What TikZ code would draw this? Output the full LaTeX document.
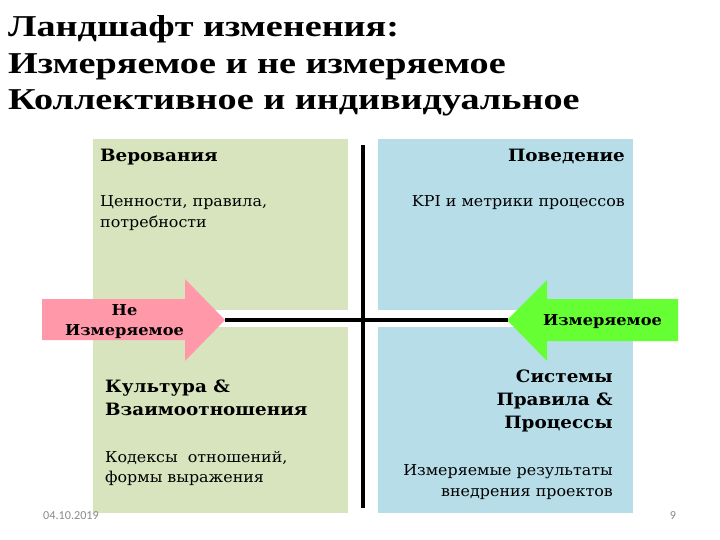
\documentclass[tikz,border=0pt]{standalone}
\usepackage{fontspec}
\setmainfont{DejaVu Serif}
\newfontfamily\titlefont[FakeStretch=1.26]{Liberation Serif}
\newfontfamily\headfont[FakeStretch=1.08]{DejaVu Serif}
\newfontfamily\bodyfont[FakeStretch=1.06]{DejaVu Serif}
\newfontfamily\footfont{Carlito}
\definecolor{boxgreen}{HTML}{D7E4BD}
\definecolor{boxblue}{HTML}{B7DEE8}
\definecolor{arrpink}{HTML}{FF99AA}
\definecolor{arrgreen}{HTML}{66FF33}
\definecolor{footgray}{HTML}{8B8B8B}
\tikzset{
  titletext/.style={anchor=base west, inner sep=0pt, font=\titlefont\bfseries\fontsize{30.3}{32}\selectfont},
  headL/.style={anchor=base west, inner sep=0pt, font=\headfont\bfseries\fontsize{17}{18}\selectfont},
  headR/.style={anchor=base east, inner sep=0pt, font=\headfont\bfseries\fontsize{17}{18}\selectfont},
  bodyL/.style={anchor=base west, inner sep=0pt, font=\bodyfont\fontsize{15}{18}\selectfont},
  bodyR/.style={anchor=base east, inner sep=0pt, font=\bodyfont\fontsize{15}{18}\selectfont},
  arrlabel/.style={anchor=base, inner sep=0pt, font=\headfont\bfseries\fontsize{15}{16}\selectfont},
  foottext/.style={inner sep=0pt, text=footgray, font=\footfont\fontsize{12.2}{14}\selectfont},
  axis/.style={line width=3.4pt, black},
}
\begin{document}
\begin{tikzpicture}[x=1pt,y=-1pt]
\useasboundingbox (0,0) rectangle (720,540);
\fill[white] (0,0) rectangle (720,540);

% title
\node[titletext] (t1) at (8,37) {Ландшафт изменения:};
\node[titletext] (t2) at (8,74) {Измеряемое и не измеряемое};
\node[titletext] (t3) at (8,110) {Коллективное и индивидуальное};

% quadrants
\fill[boxgreen] (93,139) rectangle (348,310);
\fill[boxgreen] (93,327) rectangle (348,513);
\fill[boxblue] (378,139) rectangle (633,310);
\fill[boxblue] (378,327) rectangle (633,513);

% arrows
\fill[arrpink] (42,299) -- (185,299) -- (185,279) -- (225,320) -- (185,361) -- (185,340) -- (42,340) -- cycle;
\fill[arrgreen] (678,299) -- (547,299) -- (547,280) -- (507,320) -- (547,361) -- (547,341) -- (678,341) -- cycle;

% axes
\coordinate (hl) at (225,320);
\coordinate (hr) at (508,320);
\coordinate (vt) at (363,145);
\coordinate (vb) at (363,508);
\draw[axis] (hl) -- (hr);
\draw[axis] (vt) -- (vb);

% top-left
\node[headL] (b1) at (100,162) {Верования};
\node[bodyL] (b1a) at (100,207) {Ценности, правила,};
\node[bodyL] (b1b) at (100,228) {потребности};

% top-right
\node[headR] (b2) at (625,162) {Поведение};
\node[bodyR] (b2a) at (625,207) {KPI и метрики процессов};

% bottom-left
\node[headL] (b3) at (105,392) {Культура \&};
\node[headL] (b3b) at (105,415) {Взаимоотношения};
\node[bodyL] (b3c) at (105,462) {Кодексы\ \ отношений,};
\node[bodyL] (b3d) at (105,482) {формы выражения};

% bottom-right
\node[headR] (b4) at (613,382) {Системы};
\node[headR] (b4b) at (613,405) {Правила \&};
\node[headR] (b4c) at (613,428) {Процессы};
\node[bodyR] (b4d) at (613,475) {Измеряемые результаты};
\node[bodyR] (b4e) at (613,496) {внедрения проектов};

% arrow labels
\node[arrlabel] (al1) at (124.5,315) {Не};
\node[arrlabel] (al2) at (124.5,335) {Измеряемое};
\node[arrlabel] (ar1) at (602.5,325) {Измеряемое};

% footer
\node[foottext, anchor=base west] (date) at (43,519) {04.10.2019};
\node[foottext, anchor=base] (page) at (673,519) {9};
\end{tikzpicture}
\end{document}
